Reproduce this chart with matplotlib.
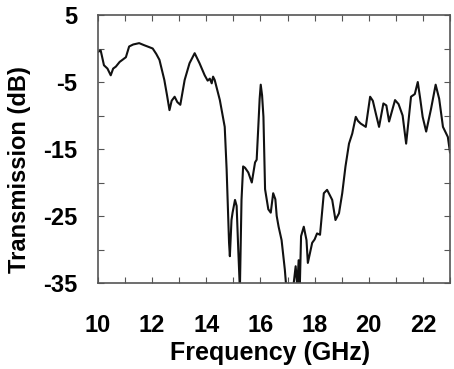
import matplotlib
matplotlib.use("Agg")
import matplotlib.pyplot as plt
from matplotlib.ticker import MultipleLocator, FixedLocator

freq = [10.0, 10.1, 10.22, 10.35, 10.47, 10.56, 10.66, 10.8, 10.9, 11.03, 11.15, 11.3, 11.52, 11.7,
        11.83, 12.02, 12.15, 12.27, 12.45, 12.55, 12.64, 12.72, 12.83, 12.93, 13.04, 13.2, 13.38,
        13.57, 13.75, 13.94, 14.05, 14.13, 14.2, 14.25, 14.31, 14.5, 14.68, 14.75, 14.84, 14.87,
        14.93, 14.97, 15.06, 15.12, 15.18, 15.24, 15.3, 15.36, 15.43, 15.55, 15.68, 15.8, 15.86,
        15.92, 15.97, 16.01, 16.06, 16.11, 16.17, 16.29, 16.38, 16.47, 16.55, 16.6, 16.67, 16.78,
        16.9, 16.96, 17.1, 17.2, 17.3, 17.36, 17.41, 17.45, 17.5, 17.6, 17.7, 17.75, 17.91, 18.0,
        18.09, 18.2, 18.34, 18.46, 18.55, 18.65, 18.77, 18.9, 19.02, 19.14, 19.27, 19.39, 19.52,
        19.6, 19.7, 19.89, 20.05, 20.15, 20.26, 20.38, 20.54, 20.65, 20.75, 20.97, 21.1, 21.25,
        21.38, 21.45, 21.56, 21.7, 21.81, 21.9, 21.99, 22.12, 22.3, 22.47, 22.6, 22.74, 22.92, 23.0]

trans = [-0.5, -0.3, -2.5, -3.0, -4.0, -3.0, -2.7, -2.0, -1.7, -1.3, 0.3, 0.6, 0.8, 0.5,
         0.3, 0.0, -0.8, -1.7, -4.7, -7.0, -9.2, -7.8, -7.2, -8.0, -8.4, -4.7, -2.2,
         -0.7, -2.2, -4.0, -4.8, -4.5, -5.2, -4.2, -4.7, -7.7, -11.7, -18.0, -29.0, -31.0,
         -25.6, -24.5, -22.6, -23.5, -30.0, -36.0, -22.6, -17.6, -17.8, -18.5, -20.0, -17.0, -16.6,
         -11.7, -7.5, -5.4, -7.0, -10.2, -21.0, -24.0, -24.5, -21.6, -22.5, -25.0, -26.6, -28.6,
         -33.0, -36.0, -37.0, -36.0, -32.5, -35.5, -31.6, -36.0, -28.0, -26.6, -28.6, -32.0, -29.0, -28.5,
         -27.6, -27.8, -21.6, -21.1, -21.8, -22.6, -25.6, -24.6, -21.6, -17.6, -14.2, -12.7, -10.2,
         -10.8, -11.2, -11.7, -7.2, -7.8, -9.7, -11.7, -8.2, -8.5, -10.9, -7.7, -8.3, -10.0,
         -14.2, -11.5, -7.2, -6.8, -5.0, -7.5, -10.2, -12.4, -9.0, -5.4, -7.5, -11.7, -13.2, -15.5]

x_major = [10, 12, 14, 16, 18, 20, 22]
y_major = [5, -5, -15, -25, -35]

plt.rcParams['font.family'] = ['Liberation Sans', 'DejaVu Sans']
plt.rcParams['axes.unicode_minus'] = False
fig = plt.figure(figsize=(4.54, 3.69), dpi=100)
ax = fig.add_axes([98/454, 1-283/369, 352/454, 268/369])
ax.plot(freq, trans, color='#111111', lw=1.5)
ax.set_xlim(10, 23)
ax.set_ylim(-35, 5)
ax.xaxis.set_major_locator(FixedLocator(x_major))
ax.xaxis.set_minor_locator(MultipleLocator(1))
ax.yaxis.set_major_locator(FixedLocator(y_major))
ax.yaxis.set_minor_locator(MultipleLocator(5))
ax.tick_params(which='both', direction='in', top=True, right=True, length=4, width=0.8, color='#555555')
ax.tick_params(axis='x', which='major', pad=22, labelsize=17)
ax.tick_params(axis='y', which='major', pad=15, labelsize=17)
for lab in ax.get_xticklabels() + ax.get_yticklabels():
    lab.set_fontweight('bold')
for s in ax.spines.values():
    s.set_color('#555555')
    s.set_linewidth(1.2)
ax.set_xlabel('Frequency (GHz)', fontsize=18, fontweight='bold')
ax.xaxis.set_label_coords(0.49, -0.215)
ax.set_ylabel('Transmission (dB)', fontsize=17, fontweight='bold')
ax.yaxis.set_label_coords(-0.19, 0.425)
fig.savefig('out.png', dpi=100)
